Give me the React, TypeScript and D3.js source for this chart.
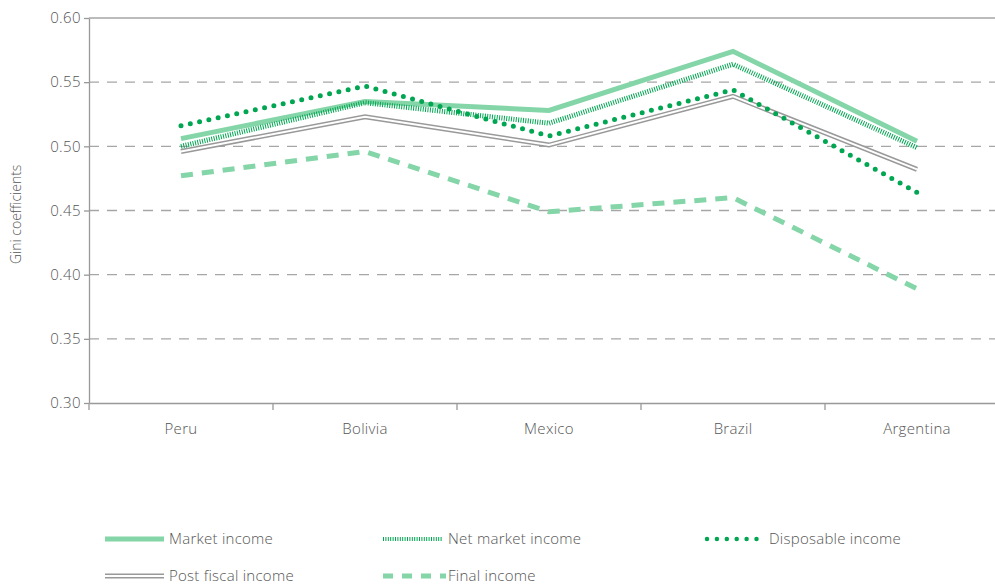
import { useEffect, useRef } from 'react'

import { axisBottom, axisLeft, line, scaleBand, scaleLinear, select } from 'd3'

const countries = ['Peru', 'Bolivia', 'Mexico', 'Brazil', 'Argentina']

const marketIncome = [0.506, 0.535, 0.528, 0.574, 0.504]
const netMarketIncome = [0.5, 0.534, 0.518, 0.564, 0.499]
const disposableIncome = [0.516, 0.547, 0.508, 0.544, 0.464]
const postFiscalIncome = [0.496, 0.523, 0.501, 0.539, 0.482]
const finalIncome = [0.477, 0.496, 0.449, 0.46, 0.389]

const yTicks = [0.3, 0.35, 0.4, 0.45, 0.5, 0.55, 0.6]

const WIDTH = 995
const HEIGHT = 584
const FONT = '"Open Sans", Lato, sans-serif'
const FONT_WEIGHT = 300
const LIGHT_GREEN = '#84d5a8'
const DARK_GREEN = '#00a651'
const GREY = '#999999'

type SeriesStyle = { key: string; label: string; values: number[] }

const series: SeriesStyle[] = [
  { key: 'final', label: 'Final income', values: finalIncome },
  { key: 'post', label: 'Post fiscal income', values: postFiscalIncome },
  { key: 'market', label: 'Market income', values: marketIncome },
  { key: 'net', label: 'Net market income', values: netMarketIncome },
  { key: 'disp', label: 'Disposable income', values: disposableIncome },
]

// stroke layers for each series key
function strokeFor(key: string) {
  switch (key) {
    case 'market':
      return [{ stroke: LIGHT_GREEN, width: 5, dash: null as string | null, cap: 'butt' }]
    case 'net':
      return [{ stroke: DARK_GREEN, width: 5, dash: '1 1.4', cap: 'butt' }]
    case 'disp':
      return [{ stroke: DARK_GREEN, width: 5, dash: '0 9.5', cap: 'round' }]
    case 'post':
      return [
        { stroke: GREY, width: 5, dash: null, cap: 'butt' },
        { stroke: '#ffffff', width: 2, dash: null, cap: 'butt' },
      ]
    default:
      return [{ stroke: LIGHT_GREEN, width: 5, dash: '12 9', cap: 'butt' }]
  }
}

export default function App() {
  const svgRef = useRef<SVGSVGElement | null>(null)

  useEffect(() => {
    if (!svgRef.current) {
      return
    }
    const svg = select(svgRef.current)
    svg.selectAll('*').remove()

    const x = scaleBand<string>().domain(countries).range([89, 1009]).padding(0)
    const y = scaleLinear().domain([0.3, 0.6]).range([403, 18])

    // grid lines
    svg
      .append('g')
      .selectAll('line')
      .data(yTicks.filter(t => t > 0.3))
      .join('line')
      .attr('x1', 89)
      .attr('x2', WIDTH)
      .attr('y1', d => y(d))
      .attr('y2', d => y(d))
      .attr('stroke', '#a6a6a6')
      .attr('stroke-width', 1.3)
      .attr('stroke-dasharray', d => (d === 0.6 ? null : '10 8'))

    svg
      .append('g')
      .attr('transform', 'translate(89,0)')
      .call(
        axisLeft(y)
          .tickValues(yTicks)
          .tickFormat(d => (d as number).toFixed(2))
          .tickSize(5)
          .tickSizeOuter(0)
      )
      .call(g => g.selectAll('path,line').attr('stroke', GREY).attr('stroke-width', 1.3))
      .call(g =>
        g
          .selectAll('text')
          .attr('font-family', FONT)
          .attr('font-weight', FONT_WEIGHT)
          .attr('font-size', 15)
          .attr('letter-spacing', 0.4)
          .attr('fill', '#555')
          .attr('x', -8)
      )

    svg
      .append('g')
      .attr('transform', 'translate(0,403)')
      .call(axisBottom(x).tickSize(0).tickSizeOuter(0))
      .call(g => g.selectAll('path').attr('stroke', GREY).attr('stroke-width', 1.3))
      .call(g =>
        g
          .selectAll('text')
          .attr('font-family', FONT)
          .attr('font-weight', FONT_WEIGHT)
          .attr('font-size', 15)
          .attr('letter-spacing', 0.3)
          .attr('fill', '#555')
          .attr('y', 20)
      )

    // band boundary ticks
    svg
      .append('g')
      .selectAll('line')
      .data(countries)
      .join('line')
      .attr('x1', d => x(d) ?? 0)
      .attr('x2', d => x(d) ?? 0)
      .attr('y1', 403)
      .attr('y2', 410)
      .attr('stroke', GREY)
      .attr('stroke-width', 1.3)

    svg
      .append('text')
      .attr('transform', `translate(21,${y(0.447)}) rotate(-90)`)
      .attr('text-anchor', 'middle')
      .attr('font-family', FONT)
      .attr('font-weight', FONT_WEIGHT)
      .attr('font-size', 14)
      .attr('fill', '#555')
      .text('Gini coefficients')

    const path = line<number>()
      .x((_, i) => (x(countries[i]) ?? 0) + x.bandwidth() / 2)
      .y(d => y(d))

    series.forEach(s => {
      strokeFor(s.key).forEach(st => {
        svg
          .append('path')
          .attr('d', path(s.values))
          .attr('fill', 'none')
          .attr('stroke', st.stroke)
          .attr('stroke-width', st.width)
          .attr('stroke-dasharray', st.dash)
          .attr('stroke-linecap', st.cap)
          .attr('stroke-linejoin', 'miter')
      })
    })

    // legend
    const legendItems = [
      { key: 'market', x: 105, y: 539, textX: 169 },
      { key: 'net', x: 383, y: 539, textX: 448 },
      { key: 'disp', x: 707, y: 539, textX: 769 },
      { key: 'post', x: 105, y: 576, textX: 169 },
      { key: 'final', x: 383, y: 576, textX: 448 },
    ]
    legendItems.forEach(item => {
      const s = series.find(d => d.key === item.key)
      if (!s) {
        return
      }
      strokeFor(item.key).forEach(st => {
        const legendDash = item.key === 'final' ? '10 9' : item.key === 'disp' ? '0 9.9' : st.dash
        svg
          .append('line')
          .attr('x1', item.x)
          .attr('x2', item.key === 'disp' ? 766 : item.key === 'final' ? 446 : item.x + 59)
          .attr('y1', item.y)
          .attr('y2', item.y)
          .attr('stroke', st.stroke)
          .attr('stroke-width', item.key === 'disp' ? 4.5 : item.key === 'net' ? 4 : st.width)
          .attr('stroke-dasharray', legendDash)
          .attr('stroke-linecap', st.cap)
      })
      svg
        .append('text')
        .attr('x', item.textX)
        .attr('y', item.y + 5)
        .attr('font-family', FONT)
        .attr('font-weight', FONT_WEIGHT)
        .attr('font-size', 15)
        .attr('letter-spacing', 0.25)
        .attr('fill', '#555')
        .text(s.label)
    })
  }, [])

  return (
    <svg
      ref={svgRef}
      width={WIDTH}
      height={HEIGHT}
      style={{ position: 'absolute', left: 0, top: 0, background: '#fff' }}
    />
  )
}
